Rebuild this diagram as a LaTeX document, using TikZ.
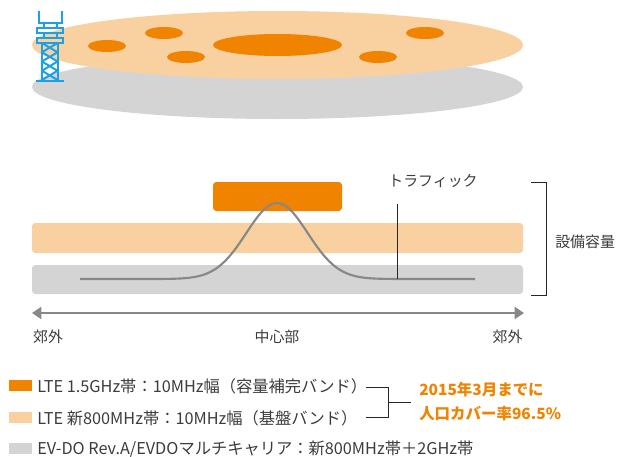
\documentclass[tikz,border=0pt]{standalone}
\usepackage{fontspec}
\setmainfont{Noto Sans CJK JP}
\usetikzlibrary{arrows.meta}

\definecolor{kdorange}{HTML}{F08300}
\definecolor{kdlight}{HTML}{F9D0A0}
\definecolor{kdgray}{HTML}{D4D4D4}
\definecolor{curvegray}{HTML}{888888}
\definecolor{towerblue}{HTML}{1BA1E6}
\definecolor{txt}{HTML}{3C3C3C}

\tikzset{
  lbl/.style={inner sep=0pt, text=txt, font=\fontsize{11.2}{13}\selectfont},
  legtext/.style={inner sep=0pt, anchor=west, text=txt, font=\fontsize{12.2}{14}\selectfont},
  note/.style={inner sep=0pt, anchor=west, text=kdorange, font=\fontsize{11.6}{14}\selectfont\bfseries},
  bandbar/.style={rounded corners=2.5pt, inner sep=0pt},
  swatch/.style={inner sep=0pt, minimum width={23*0.75pt}, minimum height={11*0.75pt}},
  bracketline/.style={draw=black!85, line width=0.6pt},
  towerline/.style={draw=towerblue, line width=1.5pt},
  blob/.style={fill=kdorange},
  axisarrow/.style={draw=curvegray, line width=1.6pt, {Triangle[length=7pt,width=9pt]}-{Triangle[length=7pt,width=9pt]}},
  traffic/.style={draw=curvegray, line width=1.6pt}
}

\begin{document}
\begin{tikzpicture}[x=0.75pt,y=-0.75pt]
\useasboundingbox (0,0) rectangle (618,457);

% ---- coverage map: two stacked discs ----
\fill[kdgray] (277.5,87) ellipse [x radius=245.5, y radius=32];
\fill[kdlight] (277.5,45) ellipse [x radius=245.5, y radius=34];
\fill[blob] (107,46) ellipse [x radius=19, y radius=6];
\fill[blob] (164,33) ellipse [x radius=19, y radius=6];
\fill[blob] (186,57) ellipse [x radius=19, y radius=6];
\fill[blob] (277.5,45) ellipse [x radius=64.5, y radius=11];
\fill[blob] (425,33) ellipse [x radius=19, y radius=6];
\fill[blob] (378,57) ellipse [x radius=19, y radius=6];

% ---- base station tower ----
\begin{scope}[towerline, line cap=butt]
  \draw (39,11) -- (39,23) -- (62,23) -- (62,11);
  \draw (44,23) -- (44,28) (57,23) -- (57,28);
  \draw (37,28) rectangle (63,33);
  \draw (44,33) -- (44,38) (57,33) -- (57,38);
  \draw (37,38) rectangle (63,43);
  \draw (42,43) -- (42,80) (57.5,43) -- (57.5,80);
  \foreach \ya/\yb in {43/52.25, 52.25/61.5, 61.5/70.75, 70.75/80}
    \draw (42,\ya) -- (57.5,\yb) (57.5,\ya) -- (42,\yb);
  \draw (36,80.5) -- (64,80.5);
\end{scope}

% ---- capacity bands ----
\node[bandbar, fill=kdlight, minimum width={491*0.75pt}, minimum height={30*0.75pt}] (lteband) at (277.5,238) {};
\node[bandbar, fill=kdgray, minimum width={491*0.75pt}, minimum height={29*0.75pt}] (evdoband) at (277.5,279.5) {};
\node[bandbar, fill=kdorange, minimum width={129*0.75pt}, minimum height={29*0.75pt}] (boostband) at (277.5,196.5) {};

% traffic profile
\draw[traffic] plot[domain=80:475, samples=160, smooth]
  (\x, {279-76*exp(-0.5*((\x-277)/30.6)*((\x-277)/30.6))});

% traffic marker
\node[lbl] (trafficlabel) at (433,181) {トラフィック};
\coordinate (trafficTop) at (397,204);
\coordinate (trafficFoot) at (397,279);
\draw[bracketline] (trafficTop) -- (trafficFoot);

% capacity bracket
\coordinate (capTop) at (531,182);
\coordinate (capBottom) at (531,295);
\node[lbl, anchor=west] (capacity) at (555,242) {設備容量};
\draw[bracketline] (capTop) -- (546,182) -- (546,295) -- (capBottom);

% suburb / centre axis
\coordinate (axisL) at (32,313);
\coordinate (axisR) at (524,313);
\draw[axisarrow] (axisL) -- (axisR);
\node[lbl] (suburbL) at (48,337) {郊外};
\node[lbl] (centre) at (277,337) {中心部};
\node[lbl] (suburbR) at (507.5,337) {郊外};

% ---- legend ----
\node[swatch, fill=kdorange] (sw1) at (20.5,385.5) {};
\node[swatch, fill=kdlight] (sw2) at (20.5,417.5) {};
\node[swatch, fill=kdgray] (sw3) at (20.5,448) {};
\node[legtext] (leg1) at (37,386) {LTE 1.5GHz帯：10MHz幅（容量補完バンド）};
\node[legtext] (leg2) at (37,418) {LTE 新800MHz帯：10MHz幅（基盤バンド）};
\node[legtext] (leg3) at (37,449) {EV-DO Rev.A/EVDOマルチキャリア：新800MHz帯＋2GHz帯};

\coordinate (brTop) at (366,387);
\coordinate (brBottom) at (366,417);
\coordinate (brTip) at (411,402);
\draw[bracketline] (brTop) -- (388,387) -- (388,417) -- (brBottom);
\draw[bracketline] (388,402) -- (brTip);
\node[note] (note1) at (419,390) {2015年3月までに};
\node[note] (note2) at (419,414) {人口カバー率96.5\%};
\end{tikzpicture}
\end{document}
